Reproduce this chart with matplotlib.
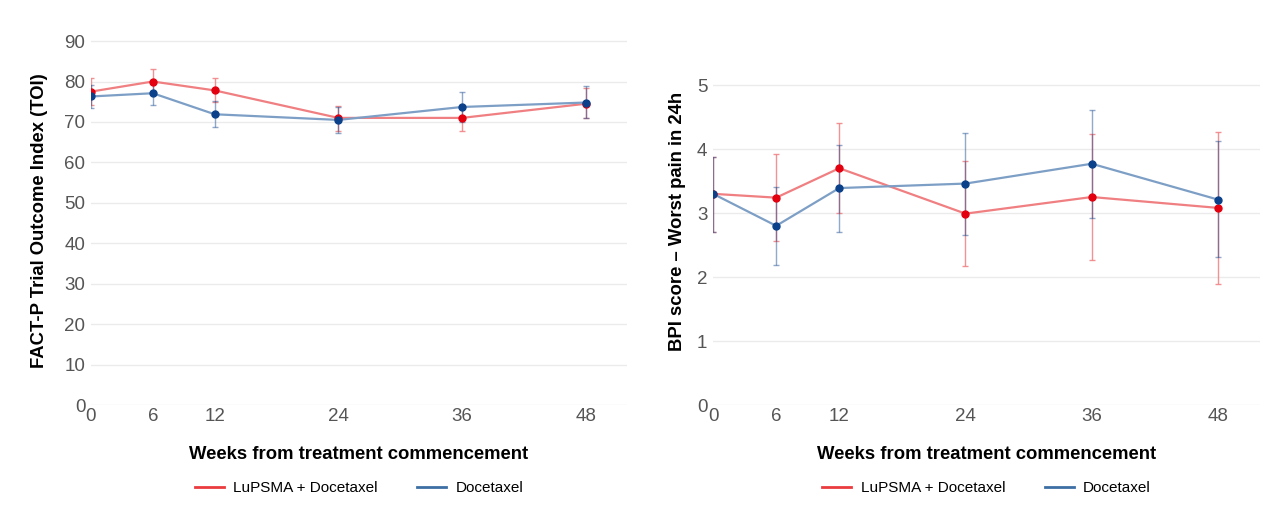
import numpy as np
import matplotlib
matplotlib.use("Agg")
import matplotlib.pyplot as plt
from matplotlib.lines import Line2D

plt.rcParams['font.family'] = ['Liberation Sans', 'DejaVu Sans']

weeks = [0, 6, 12, 24, 36, 48]
series_names = ["LuPSMA + Docetaxel", "Docetaxel"]

# FACT-P TOI (left panel)
toi_lu = [77.5, 80.0, 77.8, 71.0, 71.0, 74.5]
toi_lu_lo = [74.1, 76.9, 74.9, 67.8, 67.8, 71.0]
toi_lu_hi = [80.9, 83.1, 80.8, 73.9, 74.2, 78.3]
toi_doc = [76.3, 77.1, 71.9, 70.5, 73.7, 74.8]
toi_doc_lo = [73.5, 74.1, 68.7, 67.2, 70.0, 71.0]
toi_doc_hi = [79.1, 80.1, 75.1, 73.8, 77.4, 78.8]

# BPI worst pain in 24h (right panel)
bpi_lu = [3.30, 3.24, 3.70, 2.99, 3.25, 3.08]
bpi_lu_lo = [2.70, 2.56, 3.00, 2.17, 2.26, 1.89]
bpi_lu_hi = [3.87, 3.92, 4.41, 3.82, 4.24, 4.27]
bpi_doc = [3.30, 2.80, 3.39, 3.46, 3.77, 3.21]
bpi_doc_lo = [2.70, 2.19, 2.71, 2.66, 2.92, 2.31]
bpi_doc_hi = [3.87, 3.41, 4.06, 4.25, 4.61, 4.12]

red_line = "#f07f82"
red_dot = "#e3000f"
blue_line = "#7d9fc6"
blue_dot = "#0b418a"
red_leg = "#ea3b3f"
blue_leg = "#3d6fa5"

fig = plt.figure(figsize=(12.69, 5.29), dpi=100)
ax1 = fig.add_axes([0.0717, 0.2344, 0.4223, 0.6956])
ax2 = fig.add_axes([0.5619, 0.2344, 0.4310, 0.6956])


def draw(ax, y1, lo1, hi1, y2, lo2, hi2):
    y1, lo1, hi1 = np.array(y1), np.array(lo1), np.array(hi1)
    y2, lo2, hi2 = np.array(y2), np.array(lo2), np.array(hi2)
    ax.errorbar(weeks, y1, yerr=[y1 - lo1, hi1 - y1], fmt='none',
                ecolor=red_line, elinewidth=1.0, capsize=2, capthick=1.0,
                alpha=0.85, zorder=2)
    ax.errorbar(weeks, y2, yerr=[y2 - lo2, hi2 - y2], fmt='none',
                ecolor=blue_dot, elinewidth=1.0, capsize=2, capthick=1.0,
                alpha=0.45, zorder=2)
    ax.plot(weeks, y1, color=red_line, lw=1.6, zorder=3)
    ax.plot(weeks, y2, color=blue_line, lw=1.6, zorder=3)
    ax.plot(weeks, y1, 'o', color=red_dot, ms=5, zorder=4)
    ax.plot(weeks, y2, 'o', color=blue_dot, ms=5, zorder=5)
    ax.set_xlim(0, 52)
    ax.set_xticks(weeks)
    for s in ax.spines.values():
        s.set_visible(False)
    ax.grid(axis='y', color='#ebebeb', lw=1.0)
    ax.set_axisbelow(True)
    ax.tick_params(length=0, labelsize=13.5, labelcolor='#555555')
    ax.tick_params(axis='x', pad=2)
    ax.tick_params(axis='y', pad=4)
    ax.set_xlabel("Weeks from treatment commencement", fontsize=13.3,
                  fontweight='bold', labelpad=15)


draw(ax1, toi_lu, toi_lu_lo, toi_lu_hi, toi_doc, toi_doc_lo, toi_doc_hi)
ax1.set_ylim(0, 91)
ax1.set_yticks(np.arange(0, 91, 10))
ax1.set_ylabel("FACT-P Trial Outcome Index (TOI)", fontsize=13.3,
               fontweight='bold', labelpad=12)

draw(ax2, bpi_lu, bpi_lu_lo, bpi_lu_hi, bpi_doc, bpi_doc_lo, bpi_doc_hi)
ax2.set_ylim(0, 5.75)
ax2.set_yticks(np.arange(0, 6, 1))
ax2.set_ylabel("BPI score \u2013 Worst pain in 24h", fontsize=13.3,
               fontweight='bold', labelpad=8)

for ax in (ax1, ax2):
    handles = [Line2D([], [], color=red_leg, lw=2),
               Line2D([], [], color=blue_leg, lw=2)]
    ax.legend(handles, series_names, loc='center', ncol=2,
              bbox_to_anchor=(0.5, -0.2255), frameon=False, fontsize=11,
              handlelength=1.9, handletextpad=0.6, columnspacing=2.6)

fig.savefig("out.png", dpi=100, facecolor='white')
